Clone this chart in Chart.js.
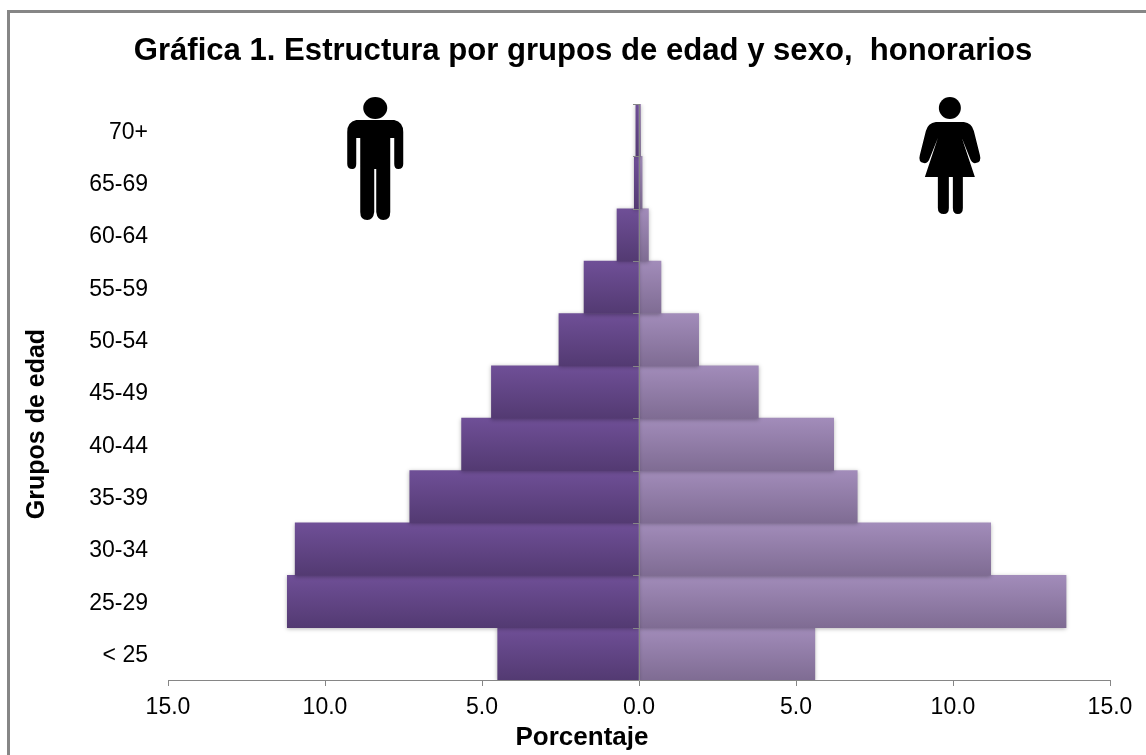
<!DOCTYPE html>
<html><head><meta charset="utf-8">
<style>html,body{margin:0;padding:0;background:#fff;overflow:hidden}#f{position:absolute;left:7px;top:10px;width:1139px;height:745px;box-sizing:border-box;border-left:3px solid #868686;border-top:3px solid #868686}canvas{display:block;position:absolute;left:0;top:0}</style>
<script src="https://cdn.jsdelivr.net/npm/chart.js@4"></script>
</head><body><div id="f"></div><canvas id="c" width="1146" height="755"></canvas>
<script>
const categories=['< 25','25-29','30-34','35-39','40-44','45-49','50-54','55-59','60-64','65-69','70+'];
const hombres=[-4.5,-11.2,-10.95,-7.3,-5.65,-4.7,-2.55,-1.75,-0.7,-0.15,-0.1];
const mujeres=[5.6,13.6,11.2,6.95,6.2,3.8,1.9,0.7,0.3,0.1,0.05];
const titleText='Gráfica 1. Estructura por grupos de edad y sexo,  honorarios';
const xTitle='Porcentaje', yTitle='Grupos de edad';
const FONT='"Liberation Sans", Arial, sans-serif';
const AXIS='#868686';

function grad(top,bottom){
  return function(ctx){
    const ch=ctx.chart, y=ch.scales.y;
    if(!y||ctx.dataIndex===undefined) return top;
    const yc=y.getPixelForValue(ctx.dataIndex), h=Math.abs(y.getPixelForValue(1)-y.getPixelForValue(0))/2;
    if(!isFinite(yc)||!isFinite(h)) return top;
    const g=ch.ctx.createLinearGradient(0,yc-h,0,yc+h);
    g.addColorStop(0,top); g.addColorStop(1,bottom);
    return g;
  };
}
function man(c,x,y,s){
  c.save();c.translate(x,y);c.scale(s,s);c.fillStyle='#000';
  c.beginPath();c.ellipse(0,-50,12,11,0,0,7);c.fill();
  c.beginPath();c.moveTo(-19,-38);c.lineTo(19,-38);c.quadraticCurveTo(28,-36,28,-26);c.lineTo(28,6);c.quadraticCurveTo(28,11,23,11);c.quadraticCurveTo(19,11,19,6);c.lineTo(19,-20);c.lineTo(15,-20);
  c.lineTo(15,54);c.quadraticCurveTo(15,62,8,62);c.quadraticCurveTo(2,62,1,54);c.lineTo(1,11);c.lineTo(-1,11);c.lineTo(-1,54);c.quadraticCurveTo(-2,62,-8,62);c.quadraticCurveTo(-15,62,-15,54);
  c.lineTo(-15,-20);c.lineTo(-19,-20);c.lineTo(-19,6);c.quadraticCurveTo(-19,11,-23,11);c.quadraticCurveTo(-28,11,-28,6);c.lineTo(-28,-26);c.quadraticCurveTo(-28,-36,-19,-38);c.closePath();c.fill();
  c.restore();
}
function woman(c,x,y,s){
  c.save();c.translate(x,y);c.scale(s,s);c.fillStyle='#000';
  c.beginPath();c.ellipse(0,-48,11,11,0,0,7);c.fill();
  c.beginPath();c.moveTo(-14,-34);c.lineTo(14,-34);c.quadraticCurveTo(22,-33,24,-25);c.lineTo(30,-1);c.quadraticCurveTo(32,6,26,7);c.quadraticCurveTo(22,8,20,2);c.lineTo(12,-18);c.lineTo(25,21);
  c.lineTo(13,21);c.lineTo(13,52);c.quadraticCurveTo(13,58,8,58);c.quadraticCurveTo(3,58,3,52);c.lineTo(3,21);c.lineTo(-1,21);c.lineTo(-1,52);c.quadraticCurveTo(-1,58,-6,58);c.quadraticCurveTo(-12,58,-12,52);c.lineTo(-12,21);
  c.lineTo(-25,21);c.lineTo(-12,-18);c.lineTo(-20,2);c.quadraticCurveTo(-22,8,-26,7);c.quadraticCurveTo(-32,6,-30,-1);c.lineTo(-24,-25);c.quadraticCurveTo(-22,-33,-14,-34);c.closePath();c.fill();
  c.restore();
}
// desplaza el título de un eje respecto al centro del área del gráfico
function shiftTitle(scale,dx,dy){
  if(scale.$shifted) return;
  scale.$shifted=true;
  const draw=scale.drawTitle;
  scale.drawTitle=function(){
    const c=this.ctx;c.save();c.translate(dx,dy);draw.call(this);c.restore();
  };
}
const extras={
  id:'extras',
  afterLayout(ch){
    const t=ch.titleBlock;
    if(t){t.left+=23;t.right+=23;}
    shiftTitle(ch.scales.x,-57,0);
    shiftTitle(ch.scales.y,0,32);
  },
  beforeDatasetsDraw(ch){const c=ch.ctx;c.save();c.shadowColor='rgba(0,0,0,0.28)';c.shadowBlur=4;c.shadowOffsetY=1;},
  afterDatasetsDraw(ch){ch.ctx.restore();},
  afterDraw(ch){
    const c=ch.ctx,x=ch.scales.x,y=ch.scales.y;
    man(c,x.getPixelForValue(-8.4),158,1);
    woman(c,x.getPixelForValue(9.9),156,1);
    const x0=x.getPixelForValue(0);
    c.save();c.strokeStyle=AXIS;c.lineWidth=1;
    for(let i=0;i<=categories.length;i++){
      const p=Math.round(y.getPixelForValue(i-0.5))+0.5;
      c.beginPath();c.moveTo(x0-6,p);c.lineTo(x0,p);c.stroke();
    }
    c.restore();
  }
};
new Chart(document.getElementById('c'),{
  type:'bar',
  data:{labels:categories,datasets:[
    {label:'Hombres',data:hombres,backgroundColor:grad('#6f4f97','#533a72')},
    {label:'Mujeres',data:mujeres,backgroundColor:grad('#a28cba','#7f6c93')}
  ]},
  plugins:[extras],
  options:{
    indexAxis:'y',responsive:false,animation:false,
    layout:{padding:{left:10,right:36,top:0,bottom:0}},
    datasets:{bar:{barPercentage:1,categoryPercentage:1,borderWidth:0}},
    plugins:{
      legend:{display:false},tooltip:{enabled:false},
      title:{display:true,text:titleText,color:'#000',align:'center',font:{family:FONT,size:31.1,weight:'bold'},padding:{top:33,bottom:33.7}}
    },
    scales:{
      x:{stacked:true,min:-15,max:15,afterFit(s){s.height=75;},
        ticks:{stepSize:5,color:'#000',font:{family:FONT,size:23},padding:8,maxRotation:0,callback:v=>Math.abs(v).toFixed(1)},
        grid:{z:1,color:c=>c.tick&&c.tick.value===0?AXIS:'transparent',tickColor:AXIS,tickLength:6,lineWidth:1},
        border:{display:true,color:AXIS,z:1},
        title:{display:true,text:xTitle,color:'#000',font:{family:FONT,size:26,weight:'bold'},padding:{top:0,bottom:2}}
      },
      y:{stacked:true,reverse:true,afterFit(s){s.width=158;},
        ticks:{color:'#000',font:{family:FONT,size:23},padding:12,labelOffset:2,autoSkip:false},
        grid:{display:false},border:{display:false},
        title:{display:true,text:yTitle,color:'#000',font:{family:FONT,size:25,weight:'bold'},padding:{top:12,bottom:0}}
      }
    }
  }
});
</script></body></html>
